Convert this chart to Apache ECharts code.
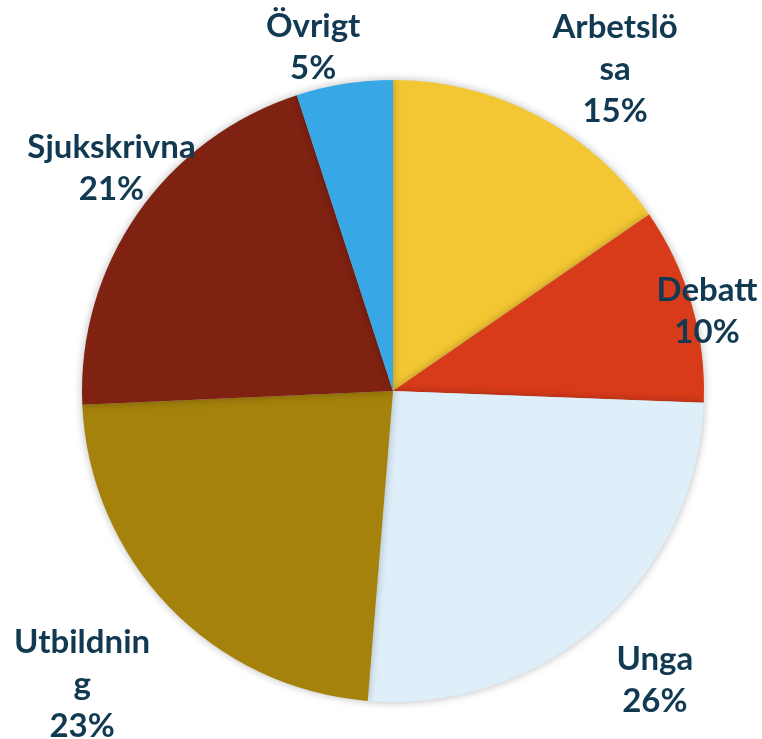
<!DOCTYPE html>
<html>
<head>
<meta charset="utf-8">
<script src="https://cdn.jsdelivr.net/npm/echarts@6/dist/echarts.min.js"></script>
<style>
html,body{margin:0;padding:0;background:#fff;}
#chart{width:762px;height:739px;}
</style>
</head>
<body>
<div id="chart"></div>
<script>
// Data
var categories = ['Arbetslösa', 'Debatt', 'Unga', 'Utbildning', 'Sjukskrivna', 'Övrigt'];
var values = [15.4, 10.2, 25.7, 23.0, 20.7, 5.0];
// Displayed label text (wrapped as in the reference)
var labelNames = ['Arbetslö\nsa', 'Debatt', 'Unga', 'Utbildnin\ng', 'Sjukskrivna', 'Övrigt'];

// Layout / style (kept separate from data)
var colors = ['#F3C733', '#D83B1A', '#DFEFF9', '#A4820B', '#7F2212', '#38A7E5'];
var pieCenter = [393, 391];
var pieRadius = 311;
var labelRadiusFactor = [1.257, 1.042, 1.254, 1.374, 1.154, 1.133];
var labelAngleShift = [6.9, 1.9, -0.6, 0.6, 3.6, -4.1];

var total = values.reduce(function (a, b) { return a + b; }, 0);
function midAngle(i) {
  var cum = 0;
  for (var k = 0; k < i; k++) cum += values[k];
  return (cum + values[i] / 2) / total * 360;
}

var chart = echarts.init(document.getElementById('chart'), null, {renderer: 'canvas'});
chart.setOption({
  animation: false,
  backgroundColor: '#ffffff',
  series: [{
    type: 'pie',
    center: pieCenter,
    radius: pieRadius,
    startAngle: 90,
    clockwise: true,
    percentPrecision: 0,
    avoidLabelOverlap: false,
    data: categories.map(function (c, i) {
      return {name: c, value: values[i], itemStyle: {color: colors[i]}};
    }),
    itemStyle: {
      borderWidth: 0,
      shadowBlur: 8,
      shadowColor: 'rgba(0,0,0,0.28)'
    },
    label: {
      show: true,
      position: 'inside',
      formatter: function (p) { return labelNames[p.dataIndex] + '\n' + p.percent + '%'; },
      color: '#113A52',
      fontFamily: 'Lato',
      fontWeight: 'bold',
      fontSize: 33,
      lineHeight: 42,
      align: 'center'
    },
    labelLine: {show: false},
    labelLayout: function (params) {
      var i = params.dataIndex;
      var a = (midAngle(i) + labelAngleShift[i]) * Math.PI / 180;
      var r = pieRadius * labelRadiusFactor[i];
      return {
        x: pieCenter[0] + r * Math.sin(a),
        y: pieCenter[1] - r * Math.cos(a),
        align: 'center',
        verticalAlign: 'middle'
      };
    },
    emphasis: {disabled: true}
  }]
});
</script>
</body>
</html>
